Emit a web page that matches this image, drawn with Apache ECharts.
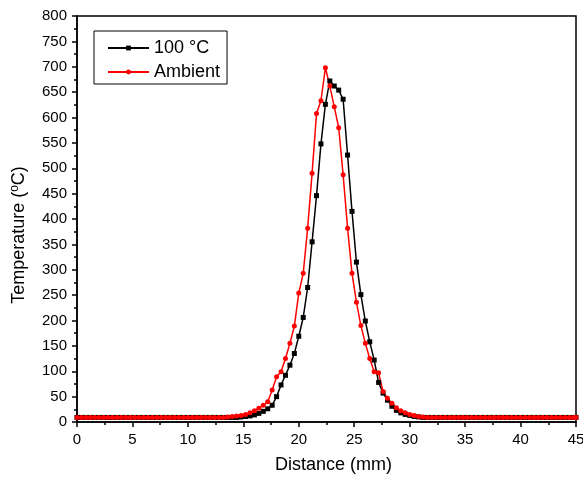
<!DOCTYPE html>
<html><head><meta charset="utf-8">
<script src="https://cdn.jsdelivr.net/npm/echarts@6/dist/echarts.min.js"></script>
<style>html,body{margin:0;padding:0;background:#fff}#c{width:583px;height:477px}</style>
</head><body><div id="c"></div>
<script>
const distance = [0,0.4,0.8,1.2,1.6,2,2.4,2.8,3.2,3.6,4,4.4,4.8,5.2,5.6,6,6.4,6.8,7.2,7.6,8,8.4,8.8,9.2,9.6,10,10.4,10.8,11.2,11.6,12,12.4,12.8,13.2,13.6,14,14.4,14.8,15.2,15.6,16,16.4,16.8,17.2,17.6,18,18.4,18.8,19.2,19.6,20,20.4,20.8,21.2,21.6,22,22.4,22.8,23.2,23.6,24,24.4,24.8,25.2,25.6,26,26.4,26.8,27.2,27.6,28,28.4,28.8,29.2,29.6,30,30.4,30.8,31.2,31.6,32,32.4,32.8,33.2,33.6,34,34.4,34.8,35.2,35.6,36,36.4,36.8,37.2,37.6,38,38.4,38.8,39.2,39.6,40,40.4,40.8,41.2,41.6,42,42.4,42.8,43.2,43.6,44,44.4,44.8,45];
const temp100 = [9,9,9,9,9,9,9,9,9,9,9,9,9,9,9,9,9,9,9,9,9,9,9,9,9,9,9,9,9,9,9,9,9,9,9,9,9,10,11,12,14,17,21,26,33,50,73,92,112,135,169,206,265,355,446,548,626,672,662,654,636,526,415,315,251,199,158,122,78,57,43,31,23,18,15,13,11,10,9,9,9,9,9,9,9,9,9,9,9,9,9,9,9,9,9,9,9,9,9,9,9,9,9,9,9,9,9,9,9,9,9,9,9,9];
const ambient = [9,9,9,9,9,9,9,9,9,9,9,9,9,9,9,9,9,9,9,9,9,9,9,9,9,9,9,9,9,9,9,9,9,9,10,11,12,13,15,18,22,27,33,40,63,89,99,125,155,189,254,293,382,490,608,633,698,662,621,580,487,382,293,236,190,155,125,99,97,60,47,37,28,22,18,15,13,11,10,9,9,9,9,9,9,9,9,9,9,9,9,9,9,9,9,9,9,9,9,9,9,9,9,9,9,9,9,9,9,9,9,9,9,9];
const seriesNames = ['100 °C', 'Ambient'];
const xLabel = 'Distance (mm)';
const yLabel = 'Temperature ({sup|o}C)';

const font = "'Liberation Sans', Arial, sans-serif";
const chart = echarts.init(document.getElementById('c'), null, {renderer: 'canvas'});
const pairs = (ys) => distance.map((x, i) => [x, ys[i]]);
chart.setOption({
  animation: false,
  backgroundColor: '#fff',
  grid: {left: 77, top: 16, right: 7, bottom: 55, show: true, borderColor: '#000', borderWidth: 1.5,
         containLabel: false, outerBoundsMode: 'none'},
  legend: {
    orient: 'vertical', left: 94, top: 31,
    data: seriesNames,
    borderColor: '#000', borderWidth: 1,
    padding: [8, 7, 3, 13],
    itemWidth: 41, itemHeight: 6, itemGap: 6,
    textStyle: {fontFamily: font, fontSize: 18, color: '#000'}
  },
  xAxis: {
    type: 'value', min: 0, max: 45, interval: 5,
    name: xLabel, nameLocation: 'middle', nameGap: 34,
    nameTextStyle: {fontFamily: font, fontSize: 18, color: '#000', padding: [0, 0, 0, 14]},
    axisLine: {lineStyle: {color: '#000', width: 1.5}},
    axisTick: {show: true, inside: false, length: 5, lineStyle: {color: '#000', width: 1.5}},
    minorTick: {show: true, splitNumber: 2, length: 3, lineStyle: {color: '#000', width: 1.5}},
    axisLabel: {fontFamily: font, fontSize: 15, color: '#000', margin: 10},
    splitLine: {show: false}
  },
  yAxis: {
    type: 'value', min: 0, max: 800, interval: 50,
    name: yLabel, nameLocation: 'middle', nameGap: 48, nameRotate: 90,
    nameTextStyle: {fontFamily: font, fontSize: 18, color: '#000', padding: [0, 32, 0, 0],
      rich: {sup: {fontFamily: font, fontSize: 12, color: '#000', verticalAlign: 'top', padding: [0, 0, 8, 0]}}},
    axisLine: {lineStyle: {color: '#000', width: 1.5}},
    axisTick: {show: true, inside: false, length: 5, lineStyle: {color: '#000', width: 1.5}},
    minorTick: {show: true, splitNumber: 2, length: 3, lineStyle: {color: '#000', width: 1.5}},
    axisLabel: {fontFamily: font, fontSize: 15, color: '#000', margin: 10},
    splitLine: {show: false}
  },
  series: [
    {name: seriesNames[0], type: 'line', data: pairs(temp100), color: '#000',
     symbol: 'rect', symbolSize: 5, showAllSymbol: true, lineStyle: {width: 1.5, color: '#000'}, itemStyle: {color: '#000'}},
    {name: seriesNames[1], type: 'line', data: pairs(ambient), color: '#ff0000',
     symbol: 'circle', symbolSize: 5, showAllSymbol: true, lineStyle: {width: 1.5, color: '#ff0000'}, itemStyle: {color: '#ff0000'}}
  ]
});
</script></body></html>
